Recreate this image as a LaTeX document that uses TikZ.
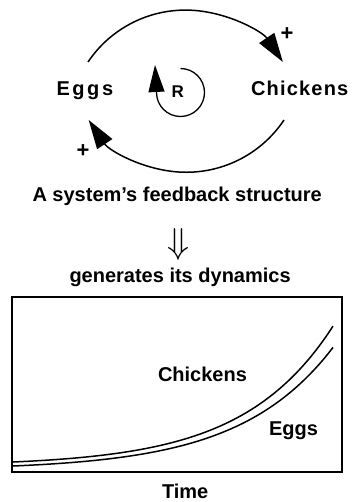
\documentclass[tikz,border=0pt]{standalone}
\usepackage{fix-cm}
\usepackage{fontspec}
\setmainfont{Liberation Sans}
\newfontfamily\eggsfont[LetterSpace=13]{Liberation Sans}
\newfontfamily\chickfont[LetterSpace=6]{Liberation Sans}
\usetikzlibrary{arrows.meta}
\begin{document}
\begin{tikzpicture}[x=1pt,y=-1pt,
  lbl/.style={inner sep=0pt, outer sep=0pt, anchor=base west, font=\fontsize{20}{24}\selectfont\bfseries},
  sym/.style={inner sep=0pt, outer sep=0pt, anchor=base},
  conn/.style={line width=1.5pt, -{Triangle[length=29pt,width=18pt]}},
  curve/.style={line width=1.5pt}]
\fill[white] (0,0) rectangle (351,502);
\useasboundingbox (0,0) rectangle (351,502);
% causal loop
\node[lbl, font=\fontsize{20}{24}\selectfont\eggsfont\bfseries] (eggs) at (56.5,96) {Eggs};
\node[lbl, font=\fontsize{20}{24}\selectfont\chickfont\bfseries] (chickens) at (251,96) {Chickens};
\coordinate (eggsTop) at (88,62);
\coordinate (chickTop) at (283,62);
\coordinate (chickBot) at (284,120);
\coordinate (eggsBot) at (88,120);
\draw[conn] (eggsTop) arc[start angle=213.9, end angle=326.1, radius=117.4];
\draw[conn] (chickBot) arc[start angle=33.7, end angle=146.3, radius=117.4];
\node[sym, font=\fontsize{22}{26}\selectfont\bfseries] (plusA) at (287,40.5) {+};
\node[sym, font=\fontsize{22}{26}\selectfont\bfseries] (plusB) at (83,157.5) {+};
% loop identifier
\node[sym, font=\fontsize{17}{20}\selectfont\bfseries] (loopR) at (177.7,97.5) {R};
\coordinate (loopStart) at (180.5,68.5);
\coordinate (loopTip) at (155,65);
\draw[line width=1.3pt, -{Triangle[length=27pt,width=16pt]}] (loopStart) arc[start angle=-90, end angle=180, radius=24] -- (loopTip);
% captions
\node[lbl] (title) at (32.5,202) {A system’s feedback structure};
\node[sym, font=\fontsize{36}{40}\selectfont] (implies) at (178.5,253) {$\Downarrow$};
\node[lbl] (gen) at (69.5,282) {generates its dynamics};
% behaviour over time
\draw[line width=1.5pt] (12,297) rectangle (342,472);
\draw[curve] plot[domain=13:333, samples=80, smooth] (\x, {466-4*exp(0.01111*(\x-13))});
\draw[curve] plot[domain=13:333, samples=80, smooth] (\x, {470-4*exp(0.0107*(\x-13))});
\node[lbl] (chickLbl) at (158,381) {Chickens};
\node[lbl] (eggsLbl) at (269,435) {Eggs};
\node[lbl] (time) at (162,498) {Time};
\end{tikzpicture}
\end{document}
